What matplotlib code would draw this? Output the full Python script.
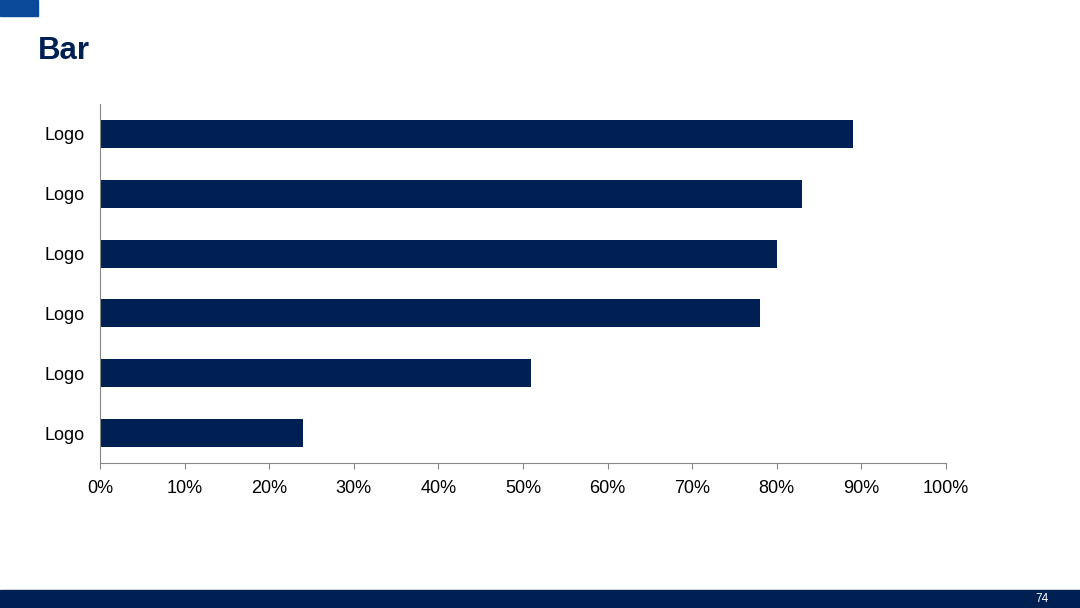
import matplotlib
matplotlib.use("Agg")
from matplotlib import pyplot as plt
from matplotlib.patches import Rectangle
from matplotlib.ticker import PercentFormatter

plt.rcParams['font.family'] = ['Liberation Sans', 'DejaVu Sans']

# Data (top to bottom as shown)
labels = ["Logo", "Logo", "Logo", "Logo", "Logo", "Logo"]
values = [89, 83, 80, 78, 51, 24]
x_ticks = [0, 10, 20, 30, 40, 50, 60, 70, 80, 90, 100]

navy = "#001f52"

fig = plt.figure(figsize=(10.8, 6.08), dpi=100)

# slide decorations
fig.patches.append(Rectangle((0, 1 - 16 / 608), 38 / 1080, 16 / 608,
                             transform=fig.transFigure, color="#0b4a9a", zorder=0))
fig.patches.append(Rectangle((0, 0), 1, 18 / 608,
                             transform=fig.transFigure, color=navy, zorder=0))
fig.text(38 / 1080, 1 - 51 / 608, "Bar", fontsize=22.5, fontweight="bold",
         color=navy, va="center", ha="left")
fig.text(1042 / 1080, 9 / 608, "74", fontsize=8.5, color="white",
         va="center", ha="center")

ax = fig.add_axes([100 / 1080, 1 - 463 / 608, 846 / 1080, 359 / 608])
pos = list(range(len(values)))[::-1]
ax.barh(pos, values, height=0.47, color=navy)
ax.set_yticks(pos)
ax.set_yticklabels(labels, fontsize=13)
ax.set_ylim(-0.5, len(values) - 0.5)
ax.set_xlim(0, 100)
ax.set_xticks(x_ticks)
ax.xaxis.set_major_formatter(PercentFormatter(decimals=0))
ax.tick_params(axis='x', labelsize=13, length=4, color="#888888", pad=8)
ax.tick_params(axis='y', length=0, pad=11)

for s in ["top", "right"]:
    ax.spines[s].set_visible(False)
ax.spines["left"].set_color("#888888")
ax.spines["bottom"].set_color("#888888")

fig.savefig("out.png", dpi=100)
